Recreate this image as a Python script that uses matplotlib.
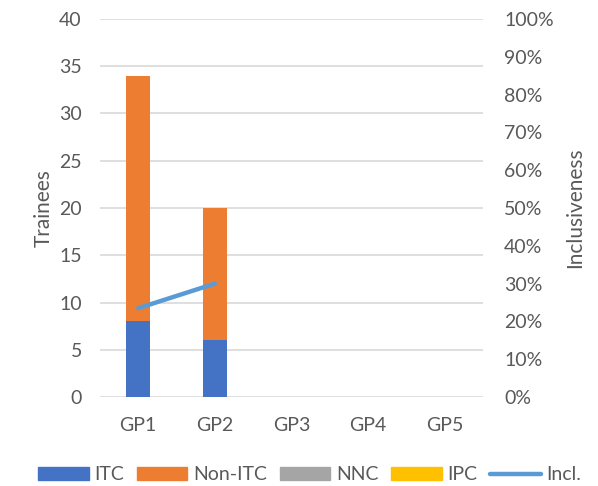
import matplotlib.pyplot as plt
import numpy as np
from matplotlib.ticker import PercentFormatter
from matplotlib.patches import Patch
from matplotlib.lines import Line2D

plt.rcParams['font.family'] = ['Lato', 'DejaVu Sans']

groups = ['GP1', 'GP2', 'GP3', 'GP4', 'GP5']
itc = [8, 6, 0, 0, 0]
non_itc = [26, 14, 0, 0, 0]
nnc = [0, 0, 0, 0, 0]
ipc = [0, 0, 0, 0, 0]
incl = [0.235, 0.30]

c_itc, c_non, c_nnc, c_ipc, c_incl = '#4472C4', '#ED7D31', '#A5A5A5', '#FFC000', '#5B9BD5'
grey = '#595959'
fs = 14

fig = plt.figure(figsize=(5.98, 4.86), dpi=100)
ax = fig.add_axes([0.167, 0.183, 0.641, 0.778])
x = np.arange(len(groups))
w = 0.31

# stacked bars
b1 = np.array(itc)
b2 = b1 + np.array(non_itc)
b3 = b2 + np.array(nnc)
ax.bar(x, itc, w, color=c_itc, zorder=3)
ax.bar(x, non_itc, w, bottom=b1, color=c_non, zorder=3)
ax.bar(x, nnc, w, bottom=b2, color=c_nnc, zorder=3)
ax.bar(x, ipc, w, bottom=b3, color=c_ipc, zorder=3)

ax.set_ylim(0, 40)
ax.set_yticks(range(0, 41, 5))
ax.set_xlim(-0.5, 4.5)
ax.set_xticks(x)
ax.set_xticklabels(groups)
ax.grid(axis='y', color='#D9D9D9', linewidth=1.2, zorder=0)
for s in ax.spines.values():
    s.set_visible(False)
ax.tick_params(length=0, labelsize=fs, colors=grey, pad=13)
ax.tick_params(axis='x', pad=14)
ax.set_ylabel('Trainees', fontsize=fs + 1, color=grey, labelpad=4)

# inclusiveness line on secondary axis
ax2 = ax.twinx()
ax2.plot(x[:len(incl)], incl, color=c_incl, linewidth=3.2, solid_capstyle='round', zorder=4)
ax2.set_ylim(0, 1)
ax2.set_yticks(np.arange(0, 1.01, 0.1))
ax2.yaxis.set_major_formatter(PercentFormatter(1.0, decimals=0))
for s in ax2.spines.values():
    s.set_visible(False)
ax2.tick_params(length=0, labelsize=fs, colors=grey, pad=15)
ax2.set_ylabel('Inclusiveness', fontsize=fs + 1, color=grey, labelpad=8)

handles = [Patch(color=c_itc), Patch(color=c_non), Patch(color=c_nnc), Patch(color=c_ipc),
           Line2D([0], [0], color=c_incl, linewidth=3.2, solid_capstyle='round')]
labels = ['ITC', 'Non-ITC', 'NNC', 'IPC', 'Incl.']
fig.legend(handles, labels, loc='center', bbox_to_anchor=(0.518, 0.023), ncol=5,
           frameon=False, fontsize=fs, labelcolor=grey, handlelength=2.6,
           handleheight=0.6, handletextpad=0.3, columnspacing=0.65, borderpad=0)

fig.savefig('out.png', dpi=100)
